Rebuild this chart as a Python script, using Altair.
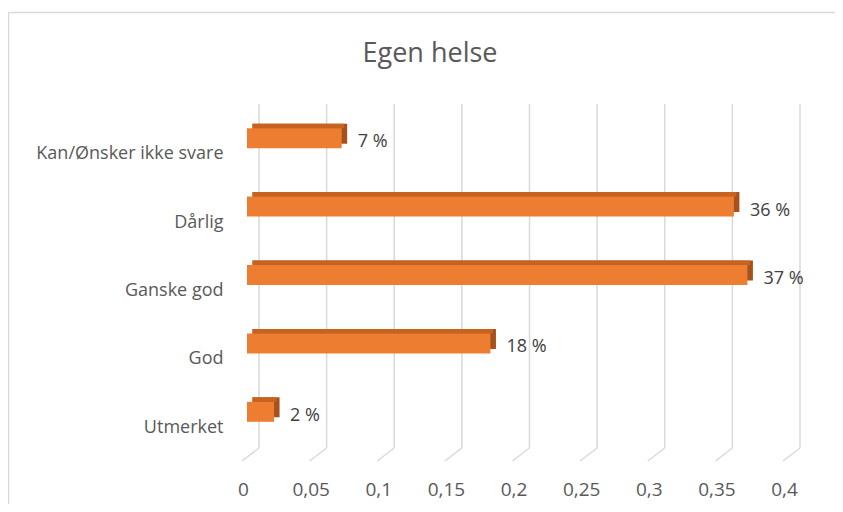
import altair as alt
import pandas as pd

categories = ["Kan/Ønsker ikke svare", "Dårlig", "Ganske god", "God", "Utmerket"]
values = [0.07, 0.36, 0.37, 0.18, 0.02]
labels = ["7 %", "36 %", "37 %", "18 %", "2 %"]
ticks = [0, 0.05, 0.1, 0.15, 0.2, 0.25, 0.3, 0.35, 0.4]
title_text = "Egen helse"

df = pd.DataFrame({"cat": categories, "val": values, "lab": labels})
tick_df = pd.DataFrame({"val": ticks})
one = pd.DataFrame({"a": [0]})

FONT = "Open Sans"
GRID = "#D9D9D9"

xscale = alt.Scale(domain=[0, 0.4], nice=False, zero=True)
xaxis = alt.Axis(
    values=ticks, grid=False, domain=False, ticks=False, title=None,
    labelExpr="replace(format(datum.value, '~g'), '.', ',')",
    labelOffset=-4, labelPadding=34, labelFontSize=19, labelColor="#595959",
    labelFont=FONT, labelFlush=False, labelOverlap=False,
)
yscale = alt.Scale(domain=categories, paddingInner=0, paddingOuter=0)
yaxis = alt.Axis(
    domain=False, ticks=False, title=None, labelPadding=24, labelOffset=16,
    labelFontSize=18, labelColor="#595959", labelFont=FONT, labelLimit=300,
)

def X(field="val"):
    return alt.X(f"{field}:Q", scale=xscale, axis=xaxis)

def Y():
    return alt.Y("cat:N", scale=yscale, axis=yaxis, sort=categories)

border = alt.Chart(one).mark_rect(fill=None, stroke=GRID, strokeWidth=1.5, clip=False).encode(
    x=alt.value(-238.5), x2=alt.value(700), y=alt.value(-91.5), y2=alt.value(500)
)

grid_v = alt.Chart(tick_df).mark_rule(color=GRID, strokeWidth=1.5, xOffset=12, x2Offset=12).encode(
    x=X(), y=alt.value(0), y2=alt.value(344)
)

grid_d = alt.Chart(tick_df).mark_rule(color=GRID, strokeWidth=1.5, xOffset=12, x2Offset=-5).encode(
    x=X(), x2=alt.X2("val:Q"), y=alt.value(344), y2=alt.value(357)
)

back = alt.Chart(df).mark_bar(color="#A5521C", height=20, xOffset=5.5, x2Offset=5.5, yOffset=-4.5).encode(
    x=X(), x2=alt.X2(datum=0), y=Y()
)

top = alt.Chart(df).mark_bar(color="#C8631F", height=4.5, xOffset=2.5, x2Offset=5.5, yOffset=-12.25).encode(
    x=X(), x2=alt.X2(datum=0), y=Y()
)

front = alt.Chart(df).mark_bar(color="#ED7D31", height=20).encode(
    x=X(), x2=alt.X2(datum=0), y=Y()
)

text = alt.Chart(df).mark_text(
    align="left", baseline="middle", dx=16, dy=4, fontSize=18, font=FONT, color="#404040"
).encode(x=X(), y=Y(), text="lab:N")

title = alt.Chart(one).mark_text(
    align="center", baseline="alphabetic", fontSize=27, font=FONT, color="#595959"
).encode(x=alt.value(183), y=alt.value(-42), text=alt.value(title_text))

chart = alt.layer(border, grid_v, grid_d, back, top, front, text, title).properties(
    width=541, height=342,
    autosize=alt.AutoSizeParams(type="none"),
    padding={"left": 239, "top": 96, "right": 47, "bottom": 58},
    background="white",
).configure_view(stroke=None)

chart.save("out.html", embed_options={"renderer": "svg", "actions": False})
